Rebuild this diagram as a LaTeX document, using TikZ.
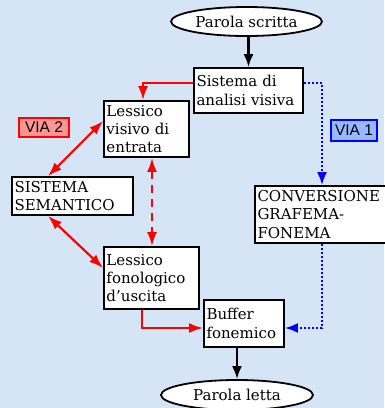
\documentclass[tikz,border=0pt]{standalone}
\usepackage{fontspec}
\setmainfont{DejaVu Serif}
\newfontfamily\labfont{Liberation Sans}
\usetikzlibrary{arrows.meta,shapes.geometric}
\definecolor{bgblue}{RGB}{214,229,245}
\definecolor{viared}{RGB}{255,150,150}
\definecolor{viablue}{RGB}{150,185,255}
\tikzset{
  boxnode/.style={draw=black, fill=white, line width=1.8pt, inner sep=2.5pt, align=left,
    font=\fontsize{15}{18.3}\selectfont, minimum width=#1, text width=#1-5pt},
  ovalnode/.style={ellipse, draw=black, fill=white, line width=1.8pt, inner sep=0pt,
    font=\fontsize{15}{18}\selectfont},
  vialab/.style={draw=#1, line width=1.3pt, inner sep=0pt, font=\labfont\fontsize{15.5}{18}\selectfont},
  blackarrow/.style={line width=2.2pt, -{Latex[length=13pt,width=10pt]}},
  redarrow/.style={red, line width=2.2pt, -{Latex[length=14pt,width=10pt]}},
  reddouble/.style={red, line width=2.2pt, {Latex[length=14pt,width=10pt]}-{Latex[length=14pt,width=10pt]}},
  bluearrow/.style={blue, line width=2.2pt, dash pattern=on 2pt off 2pt, -{Latex[length=13pt,width=10pt]}},
}
\begin{document}
\begin{tikzpicture}[x=1pt,y=-1pt]
\fill[bgblue] (0,0) rectangle (384,408);
\useasboundingbox (0,0) rectangle (384,408);

\node[ovalnode, minimum width=151pt, minimum height=29pt] (ps) at (246.5,21.5) {Parola scritta};
\node[boxnode=109pt, minimum height=45pt] (sav) at (248.5,90.5) {Sistema di\\analisi visiva};
\node[boxnode=85pt, minimum height=56pt] (lve) at (146.5,129) {Lessico\\visivo di\\entrata};
\node[boxnode=121pt, minimum height=38pt] (ss) at (72.5,196) {SISTEMA\\SEMANTICO};
\node[boxnode=131pt, minimum height=57pt] (cgf) at (320.5,214.5) {CONVERSIONE\\GRAFEMA-\\FONEMA};
\node[boxnode=95pt, minimum height=62pt] (lfu) at (151.5,278) {Lessico\\fonologico\\d’uscita};
\node[boxnode=80pt, minimum height=47pt] (bf) at (244,323.5) {Buffer\\fonemico};
\node[ovalnode, minimum width=152pt, minimum height=30pt] (pl) at (237,395) {Parola letta};

\node[vialab=red, fill=viared, minimum width=50pt, minimum height=19pt] (via2) at (44,127.5) {VIA 2};
\node[vialab=blue, fill=viablue, minimum width=46pt, minimum height=21pt] (via1) at (354,130.5) {VIA 1};

% black arrows
\draw[blackarrow] (ps.south -| sav.north) -- (sav.north);
\draw[blackarrow] (bf.south -| pl.north) -- (pl.north);

% red path via 2
\coordinate (r1) at (143,83);
\draw[redarrow] (sav.west |- r1) -| (r1 |- lve.north);
\draw[reddouble] ([xshift=-24.5pt]ss.north) -- ([yshift=8pt]lve.west);
\draw[reddouble] ([xshift=-24.5pt]ss.south) -- ([yshift=10pt]lfu.west);
\draw[reddouble, dash pattern=on 8pt off 6pt] ([xshift=5.5pt]lve.south) -- ([xshift=0.5pt]lfu.north);
\coordinate (r2) at (142,328);
\draw[redarrow] (r2 |- lfu.south) |- (bf.west |- r2);

% blue path via 1
\coordinate (b1) at (322,83);
\draw[bluearrow] (sav.east |- b1) -| (b1 |- cgf.north);
\coordinate (b2) at (322,328);
\draw[bluearrow] (b2 |- cgf.south) |- (bf.east |- b2);
\end{tikzpicture}
\end{document}
